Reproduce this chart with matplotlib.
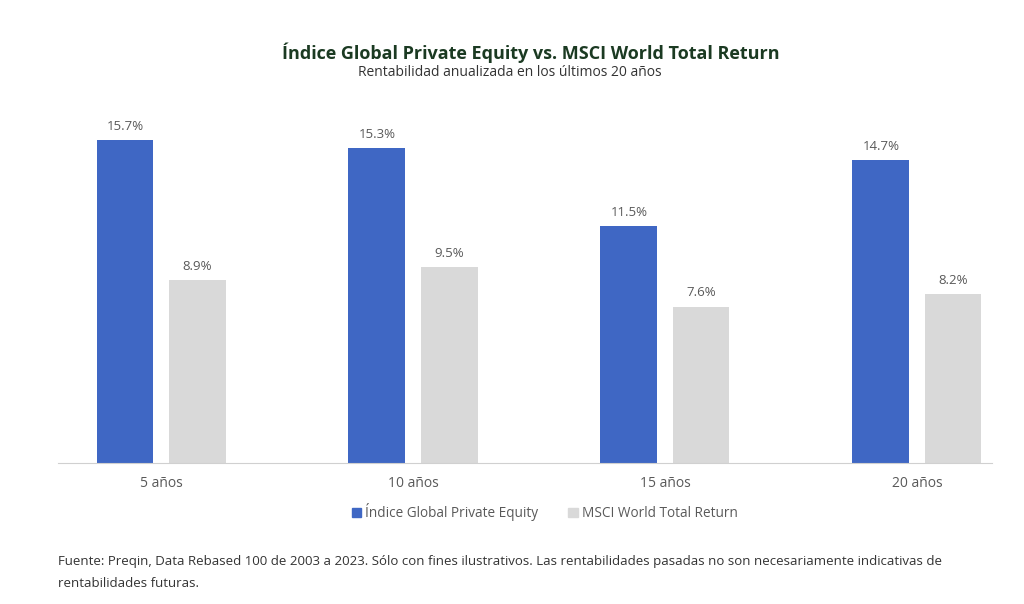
import numpy as np
import matplotlib.pyplot as plt
from matplotlib.patches import Patch

categories = ["5 años", "10 años", "15 años", "20 años"]
private_equity = [15.7, 15.3, 11.5, 14.7]
msci_world = [8.9, 9.5, 7.6, 8.2]
series_names = ["Índice Global Private Equity", "MSCI World Total Return"]

plt.rcParams["font.family"] = ["Open Sans", "DejaVu Sans"]

blue = "#3F67C4"
grey = "#D9D9D9"
text_grey = "#595959"

fig = plt.figure(figsize=(10.24, 6.04), dpi=100)
ax = fig.add_axes([0.0566, 0.2334, 0.9122, 0.585])

x = np.arange(len(categories))
off = 0.143
w = 0.226
b1 = ax.bar(x - off, private_equity, w, color=blue)
b2 = ax.bar(x + off, msci_world, w, color=grey)

# value labels above each bar
for bars, vals in ((b1, private_equity), (b2, msci_world)):
    for bar, v in zip(bars, vals):
        ax.text(bar.get_x() + bar.get_width() / 2, v + 0.35, f"{v}%",
                ha="center", va="bottom", fontsize=9.5, color=text_grey)

ax.set_xlim(-0.409, 3.298)
ax.set_ylim(0, 17.16)
ax.set_xticks(x)
ax.set_xticklabels(categories, fontsize=10, color=text_grey)
ax.tick_params(axis="x", length=0, pad=9)
ax.set_yticks([])
for s in ("top", "right", "left"):
    ax.spines[s].set_visible(False)
ax.spines["bottom"].set_color("#D0D0D0")

fig.text(0.518, 0.912, "Índice Global Private Equity vs. MSCI World Total Return",
         ha="center", va="center", fontsize=13, fontweight="bold", color="#1B3A22")
fig.text(0.498, 0.880, "Rentabilidad anualizada en los últimos 20 años",
         ha="center", va="center", fontsize=10, color="#333333")

handles = [Patch(color=blue), Patch(color=grey)]
fig.legend(handles, series_names, loc="center", bbox_to_anchor=(0.532, 0.152),
           ncol=2, frameon=False, fontsize=9.8, handlelength=0.7, handleheight=0.7,
           handletextpad=0.3, columnspacing=2.2, labelcolor=text_grey)

fig.text(0.057, 0.052,
         "Fuente: Preqin, Data Rebased 100 de 2003 a 2023. Sólo con fines ilustrativos. "
         "Las rentabilidades pasadas no son necesariamente indicativas de\nrentabilidades futuras.",
         ha="left", va="center", fontsize=9.5, color="#333333", linespacing=1.95)

fig.savefig("out.png", dpi=100)
